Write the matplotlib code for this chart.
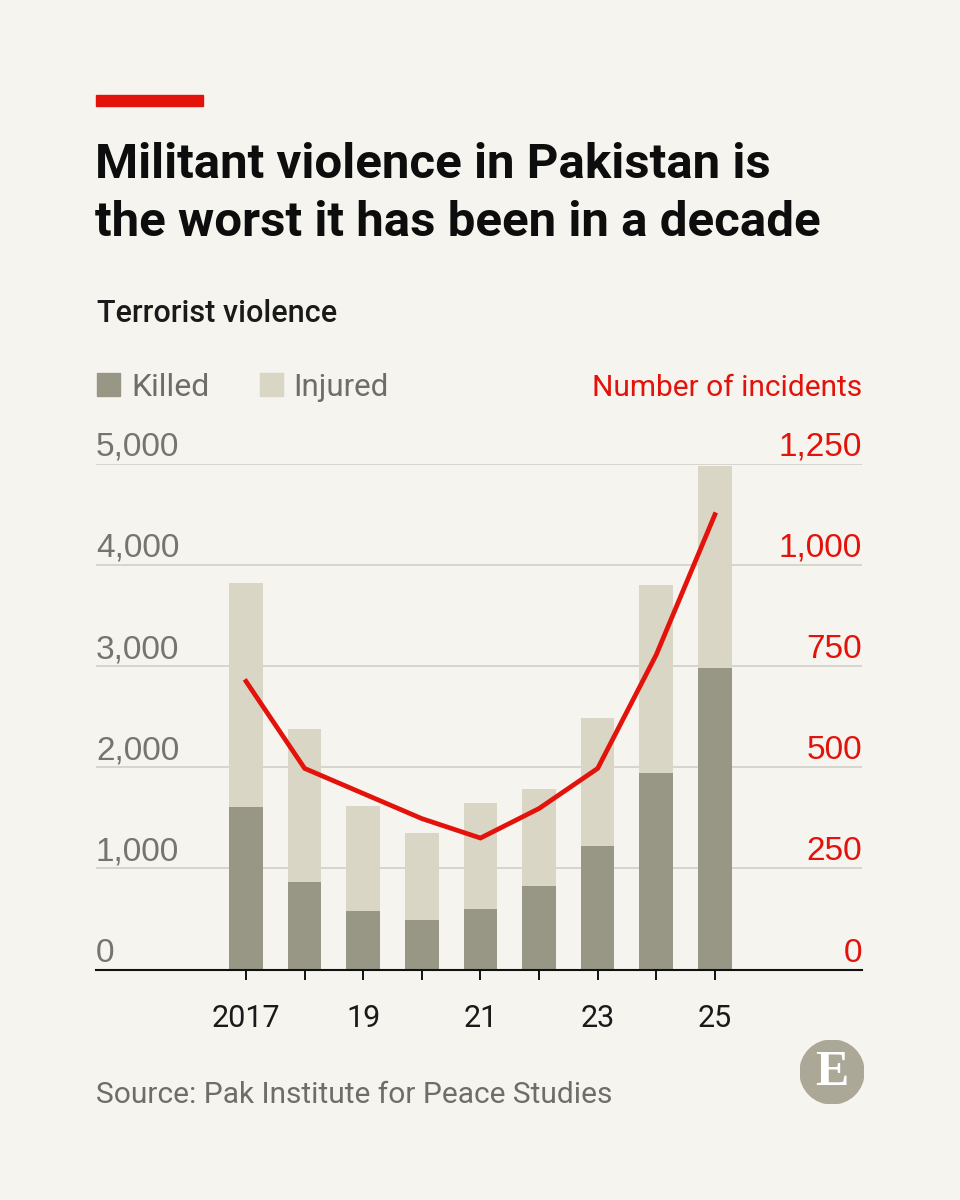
import matplotlib.pyplot as plt
import matplotlib.transforms as mtransforms
from matplotlib.patches import Circle, Rectangle
import numpy as np

# data
years = [2017, 2018, 2019, 2020, 2021, 2022, 2023, 2024, 2025]
killed = [1603, 861, 576, 495, 603, 824, 1223, 1942, 2982]
total = [3823, 2379, 1613, 1348, 1647, 1789, 2484, 3799, 4978]
injured = [t - k for t, k in zip(total, killed)]
incidents = [712, 497, 435, 373, 325, 398, 497, 778, 1124]

left_ticks = [0, 1000, 2000, 3000, 4000, 5000]
right_ticks = [0, 250, 500, 750, 1000, 1250]
year_labels = {2017: '2017', 2019: '19', 2021: '21', 2023: '23', 2025: '25'}

BG = '#f5f4ef'
RED = '#e3120b'
KILLED = '#989685'
INJURED = '#d9d6c6'
GRID = '#d3d2cc'
GREY = '#6e6d66'

narrow = ['Liberation Sans Narrow', 'Roboto', 'DejaVu Sans']
plain = ['Liberation Sans', 'DejaVu Sans']

W, H = 960, 1200
fig = plt.figure(figsize=(W / 100, H / 100), dpi=100, facecolor=BG)


def fx(px):
    return px / W


def fy(py):
    return 1 - py / H


# red tag and headings
fig.patches.append(Rectangle((fx(96), fy(106)), fx(203) - fx(96), fy(95) - fy(106),
                             transform=fig.transFigure, color=RED, zorder=5))
fig.text(fx(95), fy(178), 'Militant violence in Pakistan is', family=narrow,
         weight='bold', fontsize=35.5, color='#0d0d0d', va='baseline')
fig.text(fx(95), fy(236), 'the worst it has been in a decade', family=narrow,
         weight='bold', fontsize=35.5, color='#0d0d0d', va='baseline')
fig.text(fx(97), fy(322), 'Terrorist violence', family=narrow, fontsize=22,
         weight='medium', color='#1a1a1a', va='baseline')

# legend
fig.patches.append(Rectangle((fx(97), fy(396)), fx(23) - fx(0), fy(373) - fy(396),
                             transform=fig.transFigure, color=KILLED))
fig.text(fx(131), fy(396), 'Killed', family=narrow, fontsize=23, color=GREY, va='baseline')
fig.patches.append(Rectangle((fx(260), fy(396)), fx(23) - fx(0), fy(373) - fy(396),
                             transform=fig.transFigure, color=INJURED))
fig.text(fx(293), fy(396), 'Injured', family=narrow, fontsize=22.5, color=GREY, va='baseline')
fig.text(fx(862), fy(396), 'Number of incidents', family=narrow, fontsize=21.5,
         color=RED, va='baseline', ha='right')

# main axes
ax = fig.add_axes([fx(96), fy(969.6), fx(862) - fx(96), fy(463.6) - fy(969.6)])
ax.set_facecolor(BG)
ax.set_xlim(2014.44, 2027.51)
ax.set_ylim(0, 5000)

ax.bar(years, killed, width=0.573, color=KILLED, zorder=2)
ax.bar(years, injured, bottom=killed, width=0.573, color=INJURED, zorder=2)

for t in left_ticks[1:]:
    ax.axhline(t, color=GRID, lw=1.3, zorder=1)
ax.axhline(0, color='#111111', lw=1.5, zorder=4, clip_on=False)

for s in ax.spines.values():
    s.set_visible(False)
ax.set_yticks([])
ax.set_xticks(years)
ax.set_xticklabels([])
ax.tick_params(axis='x', length=7, width=1.4, color='#111111')
ax.set_xticks(list(year_labels.keys()), minor=True)
ax.tick_params(axis='x', which='minor', length=14, width=1.4, color='#111111')

off = mtransforms.ScaledTranslation(0, 8 / 100, fig.dpi_scale_trans)
for t in left_ticks:
    ax.text(0, t, f'{t:,}', transform=ax.get_yaxis_transform() + off,
            family=plain, fontsize=24, color='#76756d', va='baseline', ha='left')
for t in right_ticks:
    ax.text(1, t * 4, f'{t:,}', transform=ax.get_yaxis_transform() + off,
            family=plain, fontsize=24, color=RED, va='baseline', ha='right')

xoff = mtransforms.ScaledTranslation(0, -57 / 100, fig.dpi_scale_trans)
for yr, lab in year_labels.items():
    ax.text(yr, 0, lab, transform=ax.get_xaxis_transform() + xoff,
            family=narrow, fontsize=22, color='#1a1a1a', va='baseline', ha='center')

# incidents on right scale
ax2 = ax.twinx()
ax2.set_ylim(0, 1250)
ax2.plot(years, incidents, color=RED, lw=3.4, solid_joinstyle='miter', zorder=5)
ax2.set_yticks([])
for s in ax2.spines.values():
    s.set_visible(False)

# source and logo
fig.text(fx(96), fy(1103), 'Source: Pak Institute for Peace Studies', family=narrow,
         fontsize=21.5, color=GREY, va='baseline')
logo = fig.add_axes([fx(800), fy(1104), fx(64), fy(0) - fy(64)])
logo.set_xlim(-1, 1)
logo.set_ylim(-1, 1)
logo.set_aspect('equal')
logo.axis('off')
logo.add_patch(Circle((0, 0), 1, color='#aba898'))
logo.text(0, -0.04, 'E', family=['Liberation Serif', 'DejaVu Serif'], fontsize=36,
          weight='bold', color='white', ha='center', va='center')

fig.savefig('out.png', dpi=100, facecolor=BG)
